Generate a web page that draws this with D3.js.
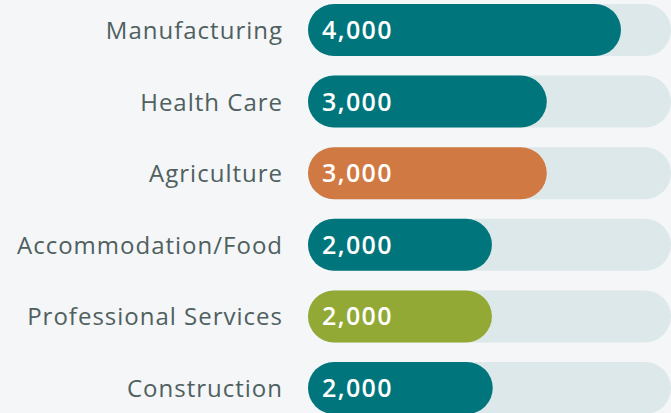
<!DOCTYPE html>
<html>
<head>
<meta charset="utf-8">
<script src="https://cdn.jsdelivr.net/npm/d3@7"></script>
<style>
  html, body { margin: 0; padding: 0; background: #f4f6f8; overflow: hidden; }
  .label { font-family: "Open Sans", sans-serif; font-size: 24px; fill: #4f605f; letter-spacing: 1px; }
  .value { font-family: "Open Sans", sans-serif; font-size: 25px; font-weight: 600; fill: #ffffff; letter-spacing: 1.4px; }
</style>
</head>
<body>
<div id="chart"></div>
<script>
var industries = ["Manufacturing", "Health Care", "Agriculture", "Accommodation/Food", "Professional Services", "Construction"]
var jobs = [3880, 2960, 2960, 2280, 2280, 2290]
var bar_colors = ["#00767c", "#00767c", "#d17943", "#00767c", "#92a935", "#00767c"]

var width = 671
var height = 413

var svg = d3.select("#chart")
			.append("svg")
			.attr("width", width)
			.attr("height", height)

var x = d3.scaleLinear()
		.domain([0, 4500])
		.range([308, 671])

// 52px bars, ~71.6px per row
var y = d3.scaleBand()
		.domain(industries)
		.range([4, 414])
		.paddingInner(19.6 / 71.6)
		.paddingOuter(0)

var fmt = function(v) { return d3.format(",")(Math.round(v / 1000) * 1000) }

var rows = svg.selectAll(".row")
			.data(industries)
			.enter()
			.append("g")
			.attr("class", "row")
			.attr("transform", function(d) { return "translate(0," + y(d) + ")" })

// background track
rows.append("rect")
	.attr("x", x(0))
	.attr("width", x(4500) - x(0))
	.attr("height", y.bandwidth())
	.attr("rx", y.bandwidth() / 2)
	.attr("fill", "#dde8ea")

rows.append("rect")
	.attr("x", x(0))
	.attr("width", function(d, i) { return x(jobs[i]) - x(0) })
	.attr("height", y.bandwidth())
	.attr("rx", y.bandwidth() / 2)
	.attr("fill", function(d, i) { return bar_colors[i] })

rows.append("text")
	.attr("class", "label")
	.attr("x", 283)
	.attr("y", y.bandwidth() / 2 + 9)
	.attr("text-anchor", "end")
	.text(function(d) { return d })

rows.append("text")
	.attr("class", "value")
	.attr("x", x(0) + 14)
	.attr("y", y.bandwidth() / 2 + 9)
	.text(function(d, i) { return fmt(jobs[i]) })
</script>
</body>
</html>
